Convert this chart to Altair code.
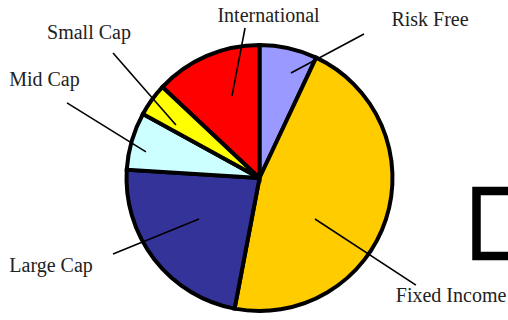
import altair as alt
import pandas as pd

# ---- data ----
categories = ["Risk Free", "Fixed Income", "Large Cap", "Mid Cap", "Small Cap", "International"]
values = [7, 46, 23, 7, 4, 13]
colors = ["#9999FF", "#FFCC00", "#333399", "#CCFFFF", "#FFFF00", "#FF0000"]

# ---- annotation layout (in pie-radius units, relative to pie centre, y up) ----
label_x = [1.263, 1.419, -1.544, -1.593, -1.263, 0.067]
label_y = [1.170, -0.874, -0.652, 0.726, 1.074, 1.200]
lead_out_x = [0.774, 1.159, -1.085, -1.426, -1.085, -0.107]
lead_out_y = [1.067, -0.793, -0.563, 0.556, 0.926, 1.111]
lead_in_x = [0.233, 0.411, -0.448, -0.841, -0.619, -0.204]
lead_in_y = [0.778, -0.304, -0.304, 0.193, 0.393, 0.607]

W, H = 508, 320
UNIT = 135.0          # pixels per pie-radius unit
CX, CY = 259.5, 178.0  # pie centre in pixels

xs = alt.Scale(domain=[-CX / UNIT, (W - CX) / UNIT], range=[0, W], nice=False, zero=False)
ys = alt.Scale(domain=[-(H - CY) / UNIT, CY / UNIT], range=[H, 0], nice=False, zero=False)

df = pd.DataFrame({
    "category": categories,
    "value": values,
    "order": list(range(len(categories))),
    "lx": label_x, "ly": label_y,
    "ox": lead_out_x, "oy": lead_out_y,
    "ix": lead_in_x, "iy": lead_in_y,
})

base = alt.Chart(df)

pie = base.mark_arc(radius=133, stroke="black", strokeWidth=4, strokeJoin="miter").encode(
    theta=alt.Theta("value:Q", stack=True),
    order=alt.Order("order:Q"),
    color=alt.Color("category:N", scale=alt.Scale(domain=categories, range=colors), legend=None),
    x=alt.X(datum=0.0, type="quantitative", scale=xs, axis=None),
    y=alt.Y(datum=0.0, type="quantitative", scale=ys, axis=None),
)

leaders = base.mark_rule(color="black", strokeWidth=1.6).encode(
    x=alt.X("ox:Q", scale=xs, axis=None),
    y=alt.Y("oy:Q", scale=ys, axis=None),
    x2="ix:Q",
    y2="iy:Q",
)

labels = base.mark_text(font="Liberation Serif", fontSize=20, color="#222222",
                        align="center", baseline="middle").encode(
    x=alt.X("lx:Q", scale=xs, axis=None),
    y=alt.Y("ly:Q", scale=ys, axis=None),
    text="category:N",
)

# partially visible box at the right edge
box_df = pd.DataFrame({"x": [(476.5 - CX) / UNIT], "x2": [(540 - CX) / UNIT],
                       "y": [(CY - 191) / UNIT], "y2": [(CY - 256) / UNIT]})
box = alt.Chart(box_df).mark_rect(fill=None, stroke="black", strokeWidth=8.5, clip=True).encode(
    x=alt.X("x:Q", scale=xs, axis=None), x2="x2:Q",
    y=alt.Y("y:Q", scale=ys, axis=None), y2="y2:Q",
)

chart = alt.layer(pie, leaders, labels, box).properties(
    width=W, height=H, padding=0, autosize="none", background="white"
).configure_view(stroke=None)

chart.save("out.html", embed_options={"renderer": "svg", "actions": False})
